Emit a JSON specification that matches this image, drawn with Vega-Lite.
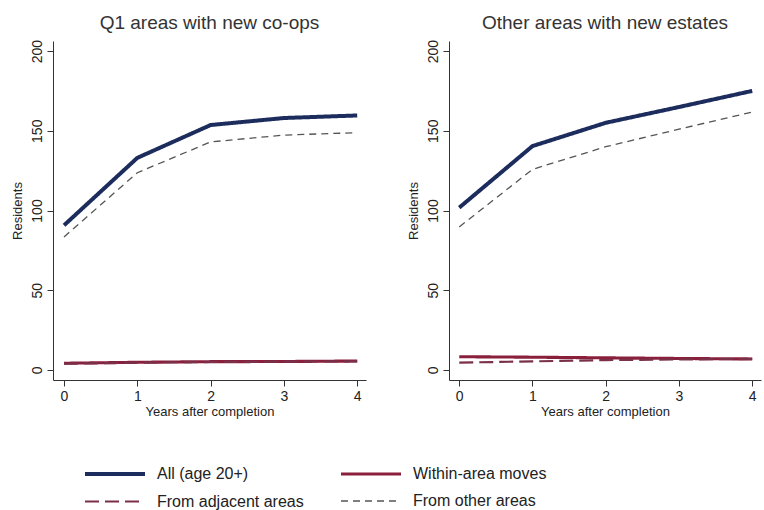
{
  "$schema": "https://vega.github.io/schema/vega-lite/v6.json",
  "background": "white",
  "padding": {"left": 10, "top": 14, "right": 2, "bottom": 5},
  "config": {
    "font": "Liberation Sans",
    "view": {"stroke": null},
    "axis": {
      "grid": false,
      "domainColor": "#333333",
      "tickColor": "#333333",
      "tickSize": 6,
      "labelColor": "#222222",
      "labelFontSize": 14,
      "titleColor": "#222222",
      "titleFontSize": 13,
      "titleFontWeight": "normal"
    },
    "title": {"fontSize": 19, "fontWeight": "normal", "color": "#333333", "frame": "group", "anchor": "middle", "offset": 6}
  },
  "datasets": {
    "resid": [
      {"panel": "Q1", "series": "All (age 20+)", "year": 0, "value": 90.7},
      {"panel": "Q1", "series": "All (age 20+)", "year": 1, "value": 133.0},
      {"panel": "Q1", "series": "All (age 20+)", "year": 2, "value": 153.6},
      {"panel": "Q1", "series": "All (age 20+)", "year": 3, "value": 158.0},
      {"panel": "Q1", "series": "All (age 20+)", "year": 4, "value": 159.6},
      {"panel": "Q1", "series": "Within-area moves", "year": 0, "value": 4.2},
      {"panel": "Q1", "series": "Within-area moves", "year": 1, "value": 4.8},
      {"panel": "Q1", "series": "Within-area moves", "year": 2, "value": 5.2},
      {"panel": "Q1", "series": "Within-area moves", "year": 3, "value": 5.3},
      {"panel": "Q1", "series": "Within-area moves", "year": 4, "value": 5.6},
      {"panel": "Q1", "series": "From adjacent areas", "year": 0, "value": 4.0},
      {"panel": "Q1", "series": "From adjacent areas", "year": 1, "value": 4.6},
      {"panel": "Q1", "series": "From adjacent areas", "year": 2, "value": 5.0},
      {"panel": "Q1", "series": "From adjacent areas", "year": 3, "value": 5.2},
      {"panel": "Q1", "series": "From adjacent areas", "year": 4, "value": 5.4},
      {"panel": "Q1", "series": "From other areas", "year": 0, "value": 83.4},
      {"panel": "Q1", "series": "From other areas", "year": 1, "value": 123.7},
      {"panel": "Q1", "series": "From other areas", "year": 2, "value": 143.0},
      {"panel": "Q1", "series": "From other areas", "year": 3, "value": 147.3},
      {"panel": "Q1", "series": "From other areas", "year": 4, "value": 148.8},
      {"panel": "Other", "series": "All (age 20+)", "year": 0, "value": 101.8},
      {"panel": "Other", "series": "All (age 20+)", "year": 1, "value": 140.4},
      {"panel": "Other", "series": "All (age 20+)", "year": 2, "value": 155.0},
      {"panel": "Other", "series": "All (age 20+)", "year": 3, "value": 164.9},
      {"panel": "Other", "series": "All (age 20+)", "year": 4, "value": 175.0},
      {"panel": "Other", "series": "Within-area moves", "year": 0, "value": 8.3},
      {"panel": "Other", "series": "Within-area moves", "year": 1, "value": 8.0},
      {"panel": "Other", "series": "Within-area moves", "year": 2, "value": 7.6},
      {"panel": "Other", "series": "Within-area moves", "year": 3, "value": 7.2},
      {"panel": "Other", "series": "Within-area moves", "year": 4, "value": 6.9},
      {"panel": "Other", "series": "From adjacent areas", "year": 0, "value": 4.6},
      {"panel": "Other", "series": "From adjacent areas", "year": 1, "value": 5.4},
      {"panel": "Other", "series": "From adjacent areas", "year": 2, "value": 6.2},
      {"panel": "Other", "series": "From adjacent areas", "year": 3, "value": 6.6},
      {"panel": "Other", "series": "From adjacent areas", "year": 4, "value": 6.9},
      {"panel": "Other", "series": "From other areas", "year": 0, "value": 89.7},
      {"panel": "Other", "series": "From other areas", "year": 1, "value": 125.8},
      {"panel": "Other", "series": "From other areas", "year": 2, "value": 140.0},
      {"panel": "Other", "series": "From other areas", "year": 3, "value": 151.0},
      {"panel": "Other", "series": "From other areas", "year": 4, "value": 161.8}
    ]
  },
  "spacing": 40,
  "hconcat": [
    {
      "width": 313,
      "height": 339,
      "title": {"text": "Q1 areas with new co-ops"},
      "data": {"name": "resid"},
      "transform": [{"filter": "datum.panel === 'Q1'"}],
      "mark": {"type": "line", "clip": true},
      "encoding": {
        "x": {"field": "year", "type": "quantitative", "scale": {"domain": [-0.15, 4.12], "nice": false, "zero": false}, "axis": {"values": [0, 1, 2, 3, 4], "title": "Years after completion", "labelPadding": 3, "titlePadding": 2}},
        "y": {"field": "value", "type": "quantitative", "scale": {"domain": [-6.3, 206.3], "nice": false, "zero": false}, "axis": {"values": [0, 50, 100, 150, 200], "title": "Residents", "labelAngle": 270, "labelAlign": "center", "labelBaseline": "bottom", "labelPadding": 3, "titlePadding": 6}},
        "color": {"field": "series", "type": "nominal", "scale": {"domain": ["All (age 20+)", "Within-area moves", "From adjacent areas", "From other areas"], "range": ["#1c2c5c", "#8a1f3c", "#7a3048", "#555555"]},
          "legend": {"title": null, "orient": "none", "legendX": 50, "legendY": 421, "columns": 2, "direction": "horizontal", "symbolType": "M-3,0H3", "symbolSize": 400, "labelFontSize": 16, "labelColor": "#222222", "labelOffset": 30, "columnPadding": 30, "rowPadding": 8, "labelLimit": 300}},
        "strokeDash": {"field": "series", "type": "nominal", "scale": {"domain": ["All (age 20+)", "Within-area moves", "From adjacent areas", "From other areas"], "range": [[1, 0], [1, 0], [14, 6], [7, 5]]}, "legend": {"title": null}},
        "strokeWidth": {"field": "series", "type": "nominal", "scale": {"domain": ["All (age 20+)", "Within-area moves", "From adjacent areas", "From other areas"], "range": [4, 1.3, 1.4, 1.3]}, "legend": {"title": null}}
      }
    },
    {
      "width": 312,
      "height": 339,
      "title": {"text": "Other areas with new estates"},
      "data": {"name": "resid"},
      "transform": [{"filter": "datum.panel === 'Other'"}],
      "mark": {"type": "line", "clip": true},
      "encoding": {
        "x": {"field": "year", "type": "quantitative", "scale": {"domain": [-0.14, 4.12], "nice": false, "zero": false}, "axis": {"values": [0, 1, 2, 3, 4], "title": "Years after completion", "labelPadding": 3, "titlePadding": 2}},
        "y": {"field": "value", "type": "quantitative", "scale": {"domain": [-6.3, 206.3], "nice": false, "zero": false}, "axis": {"values": [0, 50, 100, 150, 200], "title": "Residents", "labelAngle": 270, "labelAlign": "center", "labelBaseline": "bottom", "labelPadding": 3, "titlePadding": 6}},
        "color": {"field": "series", "type": "nominal", "scale": {"domain": ["All (age 20+)", "Within-area moves", "From adjacent areas", "From other areas"], "range": ["#1c2c5c", "#8a1f3c", "#7a3048", "#555555"]}},
        "strokeDash": {"field": "series", "type": "nominal", "scale": {"domain": ["All (age 20+)", "Within-area moves", "From adjacent areas", "From other areas"], "range": [[1, 0], [1, 0], [14, 6], [7, 5]]}},
        "strokeWidth": {"field": "series", "type": "nominal", "scale": {"domain": ["All (age 20+)", "Within-area moves", "From adjacent areas", "From other areas"], "range": [4, 1.3, 1.4, 1.3]}}
      }
    }
  ]
}
